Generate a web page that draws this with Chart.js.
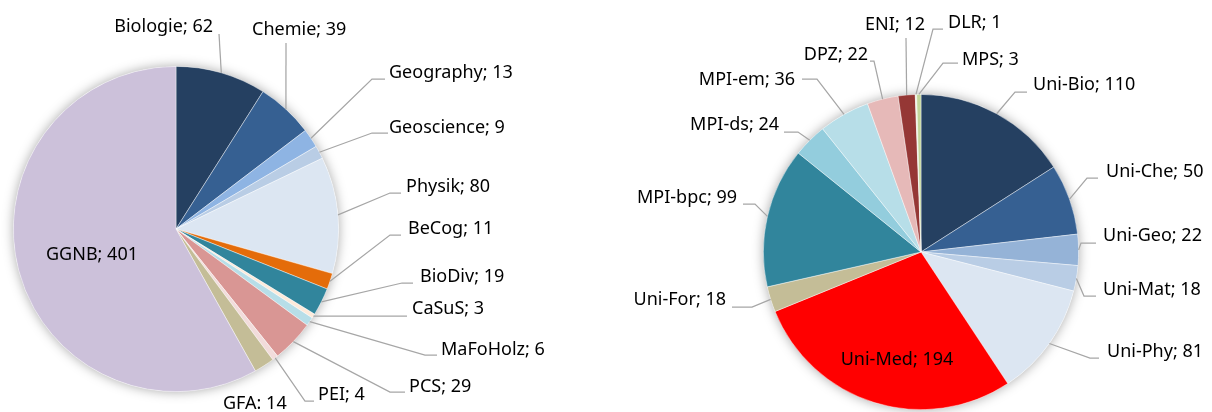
<!DOCTYPE html>
<html>
<head>
<meta charset="utf-8">
<script src="https://cdn.jsdelivr.net/npm/chart.js@4"></script>
<style>
  html, body { margin: 0; padding: 0; background: #fff; }
  #wrap { position: relative; width: 1212px; height: 412px; overflow: hidden; }
  #wrap canvas { position: absolute; left: 0; top: 0; }
</style>
</head>
<body>
<div id="wrap">
  <canvas id="leftPie" width="1212" height="412"></canvas>
  <canvas id="rightPie" width="1212" height="412"></canvas>
</div>
<script>
// Daten: linke Torte (Programme)
const leftCats = ['Biologie', 'Chemie', 'Geography', 'Geoscience', 'Physik', 'BeCog', 'BioDiv', 'CaSuS', 'MaFoHolz', 'PCS', 'PEI', 'GFA', 'GGNB'];
const leftVals = [62, 39, 13, 9, 80, 11, 19, 3, 6, 29, 4, 14, 401];

// Daten: rechte Torte (Institutionen)
const rightCats = ['Uni-Bio', 'Uni-Che', 'Uni-Geo', 'Uni-Mat', 'Uni-Phy', 'Uni-Med', 'Uni-For', 'MPI-bpc', 'MPI-ds', 'MPI-em', 'DPZ', 'ENI', 'DLR', 'MPS'];
const rightVals = [110, 50, 22, 18, 81, 194, 18, 99, 24, 36, 22, 12, 1, 3];

// Farben
const leftColors = ['#254061', '#366092', '#8EB4E3', '#B9CDE5', '#DCE6F2', '#E46C0A', '#31859C', '#FDEADA', '#B7DEE8', '#D99694', '#F2DCDB', '#C4BD97', '#CCC1DA'];
const rightColors = ['#254061', '#366092', '#95B3D7', '#B9CDE5', '#DCE6F2', '#FF0000', '#C4BD97', '#31859C', '#93CDDD', '#B7DEE8', '#E6B9B8', '#953735', '#EBF1DE', '#C3D69B'];

// Beschriftungen: Textposition + Knickpunkte der Führungslinie (Ende = Bogenmitte)
const leftLabels = [
    { x: 213, y: 27, align: 'right', lead: [[219, 34]] },
    { x: 252, y: 30, align: 'left', lead: [[286, 43]] },
    { x: 389, y: 73, align: 'left', lead: [[385, 79], [372, 79]] },
    { x: 389, y: 128, align: 'left', lead: [[388, 133], [372, 133]] },
    { x: 406, y: 187, align: 'left', lead: [[401, 193], [390, 193]] },
    { x: 408, y: 229, align: 'left', lead: [[401, 235], [390, 235]] },
    { x: 420, y: 277, align: 'left', lead: [[413, 283], [402, 283]] },
    { x: 412, y: 309, align: 'left', lead: [[407, 316]] },
    { x: 441, y: 350, align: 'left', lead: [[437, 355], [425, 355]] },
    { x: 409, y: 387, align: 'left', lead: [[405, 392], [390, 392]] },
    { x: 318, y: 395, align: 'left', lead: [[314, 401], [305, 401]] },
    { x: 223, y: 404, align: 'left', sep: ': ', lead: null },
    { x: 92, y: 255, align: 'center', lead: null }
];
const rightLabels = [
    { x: 1033, y: 85, align: 'left', lead: [[1027, 92], [1015, 92]] },
    { x: 1106, y: 172, align: 'left', lead: [[1098, 178], [1087, 178]] },
    { x: 1103, y: 236, align: 'left', lead: [[1096, 243], [1081, 243]] },
    { x: 1103, y: 290, align: 'left', lead: [[1096, 296], [1084, 296]] },
    { x: 1107, y: 352, align: 'left', lead: [[1099, 358], [1090, 358]] },
    { x: 897, y: 360, align: 'center', lead: null },
    { x: 726, y: 300, align: 'right', lead: [[732, 307], [752, 307]] },
    { x: 737, y: 198, align: 'right', lead: [[743, 204], [755, 204]] },
    { x: 779, y: 125, align: 'right', lead: [[784, 132], [798, 132]] },
    { x: 795, y: 80, align: 'right', lead: [[802, 79], [817, 79]] },
    { x: 868, y: 55, align: 'right', lead: [[870, 61], [874, 61]] },
    { x: 925, y: 25, align: 'right', lead: [[906, 38]] },
    { x: 948, y: 23, align: 'left', lead: [[943, 29], [933, 29]] },
    { x: 962, y: 60, align: 'left', lead: [[958, 63], [943, 63]] }
];

const FONT = '18px "Noto Sans", sans-serif';

// weicher Schatten hinter der Torte
const pieShadow = {
    id: 'pieShadow',
    beforeDatasetsDraw(chart) {
        const arc = chart.getDatasetMeta(0).data[0];
        if (!arc) return;
        const ctx = chart.ctx;
        ctx.save();
        ctx.shadowColor = 'rgba(0,0,0,0.35)';
        ctx.shadowBlur = 12;
        ctx.fillStyle = '#fff';
        ctx.beginPath();
        ctx.arc(arc.x, arc.y, arc.outerRadius, 0, Math.PI * 2);
        ctx.fill();
        ctx.restore();
    }
};

// Datenbeschriftungen mit Führungslinien
const pieLabels = {
    id: 'pieLabels',
    afterDatasetsDraw(chart, args, opts) {
        const ctx = chart.ctx;
        const meta = chart.getDatasetMeta(0);
        const cats = chart.data.labels;
        const vals = chart.data.datasets[0].data;
        ctx.save();
        meta.data.forEach((arc, i) => {
            const lab = opts.layout[i];
            if (!lab) return;
            if (lab.lead) {
                const mid = (arc.startAngle + arc.endAngle) / 2;
                const ex = arc.x + Math.cos(mid) * arc.outerRadius;
                const ey = arc.y + Math.sin(mid) * arc.outerRadius;
                ctx.strokeStyle = '#A6A6A6';
                ctx.lineWidth = 1.25;
                ctx.beginPath();
                ctx.moveTo(lab.lead[0][0], lab.lead[0][1]);
                for (let k = 1; k < lab.lead.length; k++) ctx.lineTo(lab.lead[k][0], lab.lead[k][1]);
                ctx.lineTo(ex, ey);
                ctx.stroke();
            }
            ctx.font = FONT;
            ctx.fillStyle = '#000';
            ctx.textAlign = lab.align;
            ctx.textBaseline = 'middle';
            ctx.fillText(cats[i] + (lab.sep || '; ') + vals[i], lab.x, lab.y);
        });
        ctx.restore();
    }
};

function makePie(id, cats, vals, colors, layout, padding) {
    new Chart(document.getElementById(id).getContext('2d'), {
        type: 'pie',
        data: {
            labels: cats,
            datasets: [{
                data: vals,
                backgroundColor: colors,
                borderColor: 'rgba(255,255,255,0.55)',
                borderWidth: 0.75,
                hoverOffset: 0
            }]
        },
        options: {
            responsive: false,
            animation: false,
            events: [],
            layout: { padding: padding },
            plugins: {
                legend: { display: false },
                tooltip: { enabled: false },
                pieLabels: { layout: layout }
            }
        },
        plugins: [pieShadow, pieLabels]
    });
}

makePie('leftPie', leftCats, leftVals, leftColors, leftLabels, { left: 13, top: 66, right: 873, bottom: 20 });
makePie('rightPie', rightCats, rightVals, rightColors, rightLabels, { left: 763, top: 94, right: 133, bottom: 2 });
</script>
</body>
</html>
